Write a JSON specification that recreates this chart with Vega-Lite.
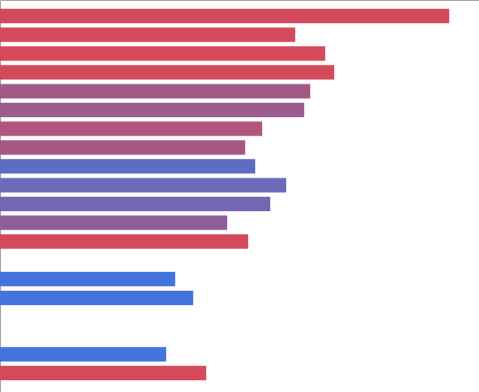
{
  "$schema": "https://vega.github.io/schema/vega-lite/v6.json",
  "width": 479,
  "height": 392,
  "padding": 0,
  "autosize": {"type": "none"},
  "config": {"view": {"stroke": null}},
  "data": {
    "values": [
      {"item": "r01", "value": 449, "mix": 1.0},
      {"item": "r02", "value": 295, "mix": 1.0},
      {"item": "r03", "value": 325, "mix": 1.0},
      {"item": "r04", "value": 334, "mix": 1.0},
      {"item": "r05", "value": 310, "mix": 0.655},
      {"item": "r06", "value": 304, "mix": 0.6},
      {"item": "r07", "value": 262, "mix": 0.75},
      {"item": "r08", "value": 245, "mix": 0.68},
      {"item": "r09", "value": 255, "mix": 0.19},
      {"item": "r10", "value": 286, "mix": 0.27},
      {"item": "r11", "value": 270, "mix": 0.35},
      {"item": "r12", "value": 227, "mix": 0.5},
      {"item": "r13", "value": 248, "mix": 1.0},
      {"item": "r15", "value": 175, "mix": 0.0},
      {"item": "r16", "value": 193, "mix": 0.0},
      {"item": "r19", "value": 166, "mix": 0.0},
      {"item": "r20", "value": 206, "mix": 1.0}
    ]
  },
  "mark": {"type": "bar", "strokeWidth": 1, "strokeOpacity": 0.45},
  "encoding": {
    "y": {
      "field": "item",
      "type": "nominal",
      "scale": {
        "domain": ["r01","r02","r03","r04","r05","r06","r07","r08","r09","r10","r11","r12","r13","r14","r15","r16","r17","r18","r19","r20"],
        "paddingInner": 0.255,
        "paddingOuter": 0.556,
        "align": 0.43
      },
      "axis": {"labels": false, "ticks": false, "title": null, "domainColor": "#a6a6a6", "domainWidth": 1}
    },
    "x": {
      "field": "value",
      "type": "quantitative",
      "scale": {"domain": [0, 479], "nice": false},
      "axis": {"orient": "top", "labels": false, "ticks": false, "grid": false, "title": null, "domainColor": "#a6a6a6", "domainWidth": 1}
    },
    "color": {
      "field": "mix",
      "type": "quantitative",
      "scale": {"domain": [0, 1], "range": ["#4374dd", "#d44a5a"], "interpolate": "rgb"},
      "legend": null
    },
    "stroke": {
      "field": "mix",
      "type": "quantitative",
      "scale": {"domain": [0, 1], "range": ["#4374dd", "#d44a5a"], "interpolate": "rgb"},
      "legend": null
    }
  }
}
